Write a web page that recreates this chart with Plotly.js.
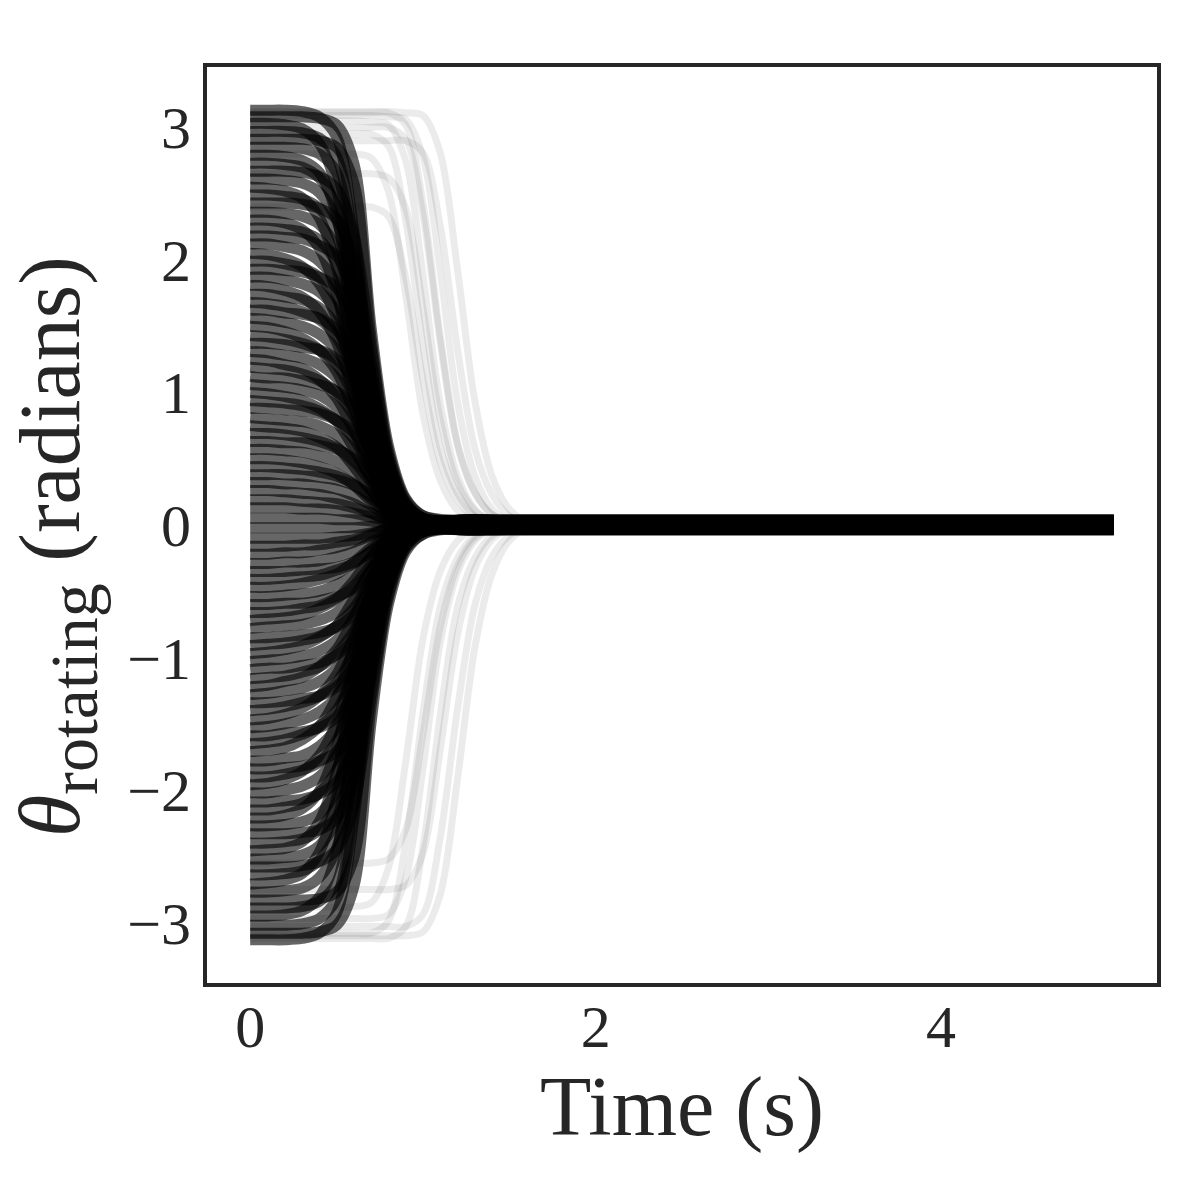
<!DOCTYPE html>
<html>
<head>
<meta charset="utf-8">
<script src="https://cdn.plot.ly/plotly-3.0.1.min.js"></script>
<style>
  html, body { margin: 0; padding: 0; background: #fff; }
  #chart { width: 1200px; height: 1200px; }
</style>
</head>
<body>
<div id="chart"></div>
<script>
// sample times (s) for the bulk of the trajectories
const mainTime = [0, 0.1, 0.2, 0.3, 0.4, 0.5, 0.6, 0.7, 0.8, 0.9, 1.0, 1.2, 1.5, 5.0];

// trajectories starting above zero, theta (rad) at mainTime
const upperTrajectories = [
  [3.13, 3.13, 3.13, 3.12, 3.08, 2.93, 2.22, 1.11, 0.45, 0.15, 0.05, 0.03, 0.03, 0.03],
  [3.08, 3.08, 3.08, 3.08, 3.07, 3.02, 2.73, 1.49, 0.60, 0.20, 0.07, 0.02, 0.02, 0.02],
  [3.03, 3.03, 3.02, 2.99, 2.88, 2.54, 1.56, 0.78, 0.32, 0.11, 0.04, 0.01, 0.01, 0.01],
  [2.97, 2.97, 2.97, 2.96, 2.92, 2.78, 2.11, 1.05, 0.43, 0.14, 0.05, -0.01, -0.01, -0.01],
  [2.91, 2.91, 2.91, 2.91, 2.90, 2.85, 2.58, 1.41, 0.56, 0.19, 0.07, 0.035, 0.035, 0.035],
  [2.85, 2.85, 2.85, 2.84, 2.80, 2.66, 2.02, 1.01, 0.41, 0.14, 0.05, 0, 0, 0],
  [2.79, 2.79, 2.78, 2.75, 2.66, 2.34, 1.44, 0.72, 0.30, 0.10, 0.04, 0.025, 0.025, 0.025],
  [2.73, 2.73, 2.72, 2.70, 2.62, 2.40, 1.86, 1.04, 0.44, 0.14, 0.04, 0.015, 0.015, 0.015],
  [2.67, 2.67, 2.67, 2.66, 2.63, 2.54, 2.19, 1.34, 0.53, 0.17, 0.05, -0.02, -0.02, -0.02],
  [2.61, 2.61, 2.60, 2.58, 2.51, 2.30, 1.77, 0.99, 0.42, 0.14, 0.04, 0.03, 0.03, 0.03],
  [2.55, 2.54, 2.52, 2.47, 2.32, 1.94, 1.28, 0.69, 0.28, 0.10, 0.04, 0.005, 0.005, 0.005],
  [2.49, 2.49, 2.48, 2.46, 2.39, 2.19, 1.69, 0.95, 0.40, 0.13, 0.04, -0.03, -0.03, -0.03],
  [2.43, 2.43, 2.43, 2.42, 2.39, 2.31, 1.99, 1.22, 0.49, 0.16, 0.05, 0.02, 0.02, 0.02],
  [2.36, 2.36, 2.35, 2.33, 2.27, 2.08, 1.60, 0.90, 0.38, 0.12, 0.04, 0.01, 0.01, 0.01],
  [2.30, 2.30, 2.28, 2.23, 2.09, 1.75, 1.15, 0.62, 0.25, 0.09, 0.03, 0.035, 0.035, 0.035],
  [2.24, 2.24, 2.23, 2.21, 2.15, 1.97, 1.52, 0.85, 0.36, 0.12, 0.04, -0.015, -0.015, -0.015],
  [2.18, 2.18, 2.17, 2.16, 2.11, 2.03, 1.74, 1.13, 0.48, 0.15, 0.05, 0.025, 0.025, 0.025],
  [2.12, 2.12, 2.10, 2.07, 1.99, 1.82, 1.43, 0.85, 0.36, 0.12, 0.04, -0.005, -0.005, -0.005],
  [2.05, 2.04, 2.01, 1.95, 1.82, 1.56, 1.11, 0.62, 0.25, 0.08, 0.03, 0.02, 0.02, 0.02],
  [1.99, 1.99, 1.97, 1.94, 1.87, 1.71, 1.34, 0.80, 0.34, 0.11, 0.04, -0.025, -0.025, -0.025],
  [1.93, 1.93, 1.92, 1.91, 1.87, 1.79, 1.54, 1.00, 0.42, 0.14, 0.05, 0, 0, 0],
  [1.87, 1.87, 1.85, 1.82, 1.76, 1.61, 1.26, 0.75, 0.32, 0.10, 0.04, 0.03, 0.03, 0.03],
  [1.81, 1.80, 1.77, 1.72, 1.61, 1.38, 0.98, 0.54, 0.22, 0.07, 0.03, -0.01, -0.01, -0.01],
  [1.74, 1.74, 1.72, 1.70, 1.64, 1.50, 1.17, 0.70, 0.30, 0.10, 0.03, 0.015, 0.015, 0.015],
  [1.68, 1.67, 1.65, 1.61, 1.55, 1.42, 1.14, 0.73, 0.31, 0.10, 0.03, -0.03, -0.03, -0.03],
  [1.62, 1.62, 1.60, 1.59, 1.56, 1.47, 1.28, 0.89, 0.39, 0.13, 0.04, 0.01, 0.01, 0.01],
  [1.56, 1.55, 1.53, 1.50, 1.44, 1.32, 1.06, 0.68, 0.29, 0.09, 0.03, 0.035, 0.035, 0.035],
  [1.50, 1.49, 1.46, 1.41, 1.32, 1.16, 0.86, 0.51, 0.21, 0.07, 0.02, -0.02, -0.02, -0.02],
  [1.43, 1.42, 1.40, 1.37, 1.32, 1.21, 0.97, 0.62, 0.27, 0.09, 0.03, 0.005, 0.005, 0.005],
  [1.37, 1.37, 1.36, 1.34, 1.32, 1.25, 1.08, 0.75, 0.33, 0.11, 0.03, 0.025, 0.025, 0.025],
  [1.31, 1.30, 1.28, 1.26, 1.21, 1.11, 0.89, 0.57, 0.24, 0.08, 0.03, -0.035, -0.035, -0.035],
  [1.25, 1.24, 1.21, 1.18, 1.10, 0.96, 0.71, 0.43, 0.18, 0.06, 0.02, 0.02, 0.02, 0.02],
  [1.19, 1.18, 1.17, 1.14, 1.09, 1.00, 0.82, 0.54, 0.24, 0.08, 0.02, 0, 0, 0],
  [1.12, 1.11, 1.11, 1.09, 1.06, 1.01, 0.88, 0.63, 0.29, 0.10, 0.03, -0.015, -0.015, -0.015],
  [1.06, 1.05, 1.04, 1.02, 0.98, 0.89, 0.73, 0.48, 0.21, 0.07, 0.02, 0.03, 0.03, 0.03],
  [1.00, 0.99, 0.97, 0.94, 0.88, 0.78, 0.58, 0.34, 0.14, 0.05, 0.02, -0.005, -0.005, -0.005],
  [0.94, 0.93, 0.92, 0.90, 0.86, 0.79, 0.65, 0.42, 0.19, 0.07, 0.02, 0.015, 0.015, 0.015],
  [0.88, 0.88, 0.87, 0.86, 0.84, 0.79, 0.70, 0.49, 0.23, 0.08, 0.03, -0.03, -0.03, -0.03],
  [0.81, 0.80, 0.79, 0.78, 0.75, 0.68, 0.56, 0.36, 0.16, 0.06, 0.02, 0.035, 0.035, 0.035],
  [0.75, 0.74, 0.73, 0.71, 0.66, 0.59, 0.44, 0.26, 0.11, 0.04, 0.01, 0.01, 0.01, 0.01],
  [0.69, 0.69, 0.68, 0.66, 0.63, 0.58, 0.48, 0.32, 0.14, 0.06, 0.01, -0.02, -0.02, -0.02],
  [0.63, 0.63, 0.62, 0.62, 0.60, 0.57, 0.50, 0.37, 0.18, 0.06, 0.02, 0.025, 0.025, 0.025],
  [0.57, 0.57, 0.56, 0.55, 0.52, 0.48, 0.40, 0.26, 0.11, 0.05, 0.01, -0.01, -0.01, -0.01],
  [0.50, 0.50, 0.49, 0.47, 0.44, 0.39, 0.30, 0.18, 0.08, 0.03, 0.01, 0.03, 0.03, 0.03],
  [0.44, 0.44, 0.43, 0.42, 0.40, 0.37, 0.31, 0.20, 0.09, 0.04, 0.01, -0.025, -0.025, -0.025],
  [0.38, 0.38, 0.38, 0.37, 0.36, 0.34, 0.30, 0.22, 0.11, 0.04, 0.01, 0.005, 0.005, 0.005],
  [0.32, 0.32, 0.31, 0.31, 0.29, 0.27, 0.22, 0.15, 0.06, 0.03, 0.01, 0.02, 0.02, 0.02],
  [0.26, 0.26, 0.25, 0.24, 0.23, 0.20, 0.16, 0.09, 0.04, 0.01, 0.01, -0.035, -0.035, -0.035],
  [0.19, 0.19, 0.19, 0.18, 0.17, 0.16, 0.13, 0.09, 0.04, 0.02, 0, 0.015, 0.015, 0.015],
  [0.13, 0.13, 0.13, 0.12, 0.12, 0.11, 0.09, 0.06, 0.03, 0.01, 0, -0.005, -0.005, -0.005],
  [0.05, 0.05, 0.05, 0.05, 0.05, 0.04, 0.04, 0.03, 0.01, 0.01, 0, 0.01, 0.01, 0.01],
];

// trajectories starting below zero, theta (rad) at mainTime
const lowerTrajectories = [
  [-0.02, -0.02, -0.02, -0.02, -0.02, -0.02, -0.02, -0.01, -0.01, 0, 0, 0.01, 0.01, 0.01],
  [-0.10, -0.10, -0.10, -0.10, -0.10, -0.09, -0.08, -0.06, -0.03, -0.01, 0, -0.02, -0.02, -0.02],
  [-0.16, -0.16, -0.16, -0.15, -0.15, -0.13, -0.11, -0.07, -0.03, -0.01, 0, 0.03, 0.03, 0.03],
  [-0.22, -0.22, -0.21, -0.21, -0.19, -0.17, -0.13, -0.08, -0.03, -0.01, 0, -0.03, -0.03, -0.03],
  [-0.29, -0.29, -0.28, -0.28, -0.27, -0.24, -0.20, -0.13, -0.06, -0.02, -0.01, 0.005, 0.005, 0.005],
  [-0.35, -0.35, -0.35, -0.34, -0.33, -0.32, -0.28, -0.20, -0.10, -0.04, -0.01, -0.01, -0.01, -0.01],
  [-0.41, -0.41, -0.40, -0.39, -0.38, -0.34, -0.29, -0.19, -0.08, -0.03, -0.01, 0.02, 0.02, 0.02],
  [-0.47, -0.47, -0.46, -0.44, -0.41, -0.37, -0.28, -0.17, -0.07, -0.02, -0.01, -0.035, -0.035, -0.035],
  [-0.54, -0.54, -0.53, -0.52, -0.50, -0.45, -0.38, -0.25, -0.11, -0.04, -0.01, 0.035, 0.035, 0.035],
  [-0.60, -0.60, -0.59, -0.59, -0.57, -0.54, -0.48, -0.35, -0.17, -0.06, -0.02, -0.015, -0.015, -0.015],
  [-0.66, -0.66, -0.65, -0.63, -0.61, -0.55, -0.46, -0.30, -0.13, -0.05, -0.01, 0, 0, 0],
  [-0.72, -0.71, -0.70, -0.68, -0.63, -0.56, -0.42, -0.24, -0.10, -0.04, -0.01, 0.025, 0.025, 0.025],
  [-0.78, -0.77, -0.76, -0.75, -0.72, -0.66, -0.54, -0.35, -0.16, -0.05, -0.02, -0.02, -0.02, -0.02],
  [-0.85, -0.85, -0.84, -0.83, -0.81, -0.77, -0.67, -0.48, -0.22, -0.08, -0.03, 0.01, 0.01, 0.01],
  [-0.91, -0.90, -0.89, -0.87, -0.84, -0.76, -0.63, -0.41, -0.18, -0.06, -0.02, -0.03, -0.03, -0.03],
  [-0.97, -0.96, -0.94, -0.91, -0.85, -0.76, -0.56, -0.33, -0.14, -0.05, -0.01, 0.02, 0.02, 0.02],
  [-1.03, -1.02, -1.01, -0.99, -0.95, -0.87, -0.71, -0.46, -0.21, -0.07, -0.02, -0.005, -0.005, -0.005],
  [-1.09, -1.08, -1.08, -1.06, -1.04, -0.98, -0.86, -0.61, -0.28, -0.10, -0.03, 0.035, 0.035, 0.035],
  [-1.16, -1.15, -1.14, -1.11, -1.07, -0.97, -0.80, -0.52, -0.23, -0.08, -0.02, -0.025, -0.025, -0.025],
  [-1.22, -1.21, -1.18, -1.15, -1.07, -0.94, -0.70, -0.41, -0.17, -0.05, -0.02, 0.015, 0.015, 0.015],
  [-1.28, -1.27, -1.25, -1.23, -1.18, -1.08, -0.87, -0.55, -0.24, -0.08, -0.03, -0.01, -0.01, -0.01],
  [-1.34, -1.34, -1.33, -1.31, -1.29, -1.22, -1.06, -0.74, -0.32, -0.11, -0.03, 0.03, 0.03, 0.03],
  [-1.40, -1.39, -1.37, -1.34, -1.29, -1.19, -0.95, -0.61, -0.26, -0.08, -0.03, -0.035, -0.035, -0.035],
  [-1.47, -1.46, -1.43, -1.38, -1.29, -1.13, -0.84, -0.50, -0.21, -0.07, -0.02, 0, 0, 0],
  [-1.53, -1.52, -1.50, -1.47, -1.41, -1.30, -1.04, -0.66, -0.29, -0.09, -0.03, 0.025, 0.025, 0.025],
  [-1.59, -1.59, -1.57, -1.56, -1.53, -1.45, -1.26, -0.87, -0.38, -0.13, -0.04, -0.015, -0.015, -0.015],
  [-1.65, -1.64, -1.62, -1.58, -1.52, -1.40, -1.12, -0.71, -0.31, -0.10, -0.03, 0.02, 0.02, 0.02],
  [-1.71, -1.70, -1.68, -1.62, -1.52, -1.30, -0.92, -0.51, -0.21, -0.07, -0.03, -0.03, -0.03, -0.03],
  [-1.78, -1.78, -1.76, -1.74, -1.67, -1.53, -1.20, -0.71, -0.30, -0.10, -0.04, 0.01, 0.01, 0.01],
  [-1.84, -1.84, -1.83, -1.82, -1.78, -1.71, -1.47, -0.96, -0.40, -0.13, -0.05, -0.02, -0.02, -0.02],
  [-1.90, -1.90, -1.88, -1.85, -1.79, -1.63, -1.28, -0.76, -0.32, -0.10, -0.04, 0.035, 0.035, 0.035],
  [-1.96, -1.95, -1.92, -1.86, -1.74, -1.49, -1.06, -0.59, -0.24, -0.08, -0.03, -0.005, -0.005, -0.005],
  [-2.02, -2.02, -2.00, -1.97, -1.90, -1.74, -1.36, -0.81, -0.34, -0.11, -0.04, 0.02, 0.02, 0.02],
  [-2.09, -2.09, -2.08, -2.07, -2.03, -1.94, -1.67, -1.09, -0.46, -0.15, -0.05, -0.025, -0.025, -0.025],
  [-2.15, -2.15, -2.13, -2.10, -2.02, -1.85, -1.45, -0.86, -0.37, -0.12, -0.04, 0.005, 0.005, 0.005],
  [-2.21, -2.21, -2.19, -2.14, -2.01, -1.68, -1.11, -0.60, -0.24, -0.09, -0.03, 0.03, 0.03, 0.03],
  [-2.27, -2.27, -2.26, -2.24, -2.18, -2.00, -1.54, -0.86, -0.36, -0.12, -0.04, -0.01, -0.01, -0.01],
  [-2.33, -2.33, -2.33, -2.32, -2.30, -2.21, -1.91, -1.17, -0.47, -0.15, -0.05, 0.015, 0.015, 0.015],
  [-2.40, -2.40, -2.39, -2.37, -2.30, -2.11, -1.63, -0.91, -0.38, -0.12, -0.04, -0.03, -0.03, -0.03],
  [-2.46, -2.45, -2.44, -2.39, -2.24, -1.87, -1.23, -0.66, -0.27, -0.10, -0.04, 0.02, 0.02, 0.02],
  [-2.52, -2.52, -2.51, -2.49, -2.42, -2.22, -1.71, -0.96, -0.40, -0.13, -0.04, 0, 0, 0],
  [-2.58, -2.58, -2.58, -2.57, -2.54, -2.45, -2.12, -1.29, -0.52, -0.17, -0.05, -0.02, -0.02, -0.02],
  [-2.64, -2.64, -2.63, -2.61, -2.53, -2.32, -1.80, -1.00, -0.42, -0.14, -0.04, 0.035, 0.035, 0.035],
  [-2.71, -2.70, -2.68, -2.63, -2.47, -2.06, -1.36, -0.73, -0.30, -0.11, -0.04, -0.015, -0.015, -0.015],
  [-2.77, -2.77, -2.76, -2.74, -2.66, -2.44, -1.88, -1.05, -0.44, -0.14, -0.04, 0.025, 0.025, 0.025],
  [-2.83, -2.83, -2.83, -2.83, -2.82, -2.77, -2.51, -1.37, -0.55, -0.18, -0.07, -0.005, -0.005, -0.005],
  [-2.89, -2.89, -2.89, -2.88, -2.84, -2.70, -2.05, -1.03, -0.42, -0.14, -0.05, 0.02, 0.02, 0.02],
  [-2.95, -2.95, -2.94, -2.91, -2.81, -2.48, -1.52, -0.76, -0.31, -0.10, -0.04, -0.03, -0.03, -0.03],
  [-3.02, -3.02, -3.02, -3.01, -2.97, -2.82, -2.14, -1.07, -0.44, -0.14, -0.05, 0.01, 0.01, 0.01],
  [-3.08, -3.08, -3.08, -3.08, -3.07, -3.02, -2.73, -1.49, -0.60, -0.20, -0.07, -0.025, -0.025, -0.025],
  [-3.13, -3.13, -3.13, -3.12, -3.08, -2.93, -2.22, -1.11, -0.45, -0.15, -0.05, 0.03, 0.03, 0.03],
];

// the few slow swings that stay near +/-pi longer (faint fan)
const lateTime = [0, 0.3, 0.6, 0.7, 0.8, 0.9, 1.0, 1.1, 1.2, 1.3, 1.4, 1.5, 1.6, 1.8, 5.0];
const lateTrajectories = [
  [3.12, 3.12, 3.12, 3.12, 3.12, 3.11, 3.09, 2.81, 1.93, 0.94, 0.37, 0.12, 0.03, 0.01, 0],
  [3.09, 3.09, 3.09, 3.09, 3.08, 3.06, 2.78, 1.92, 0.93, 0.37, 0.12, 0.03, 0.01, 0, 0],
  [3.05, 3.05, 3.05, 3.04, 3.02, 2.75, 1.89, 0.92, 0.37, 0.12, 0.03, 0.01, 0, 0, 0],
  [3.00, 3.00, 3.00, 3.00, 3.00, 2.91, 2.34, 1.38, 0.60, 0.24, 0.08, 0.03, 0.01, 0, 0],
  [2.95, 2.95, 2.95, 2.95, 2.86, 2.30, 1.36, 0.59, 0.24, 0.07, 0.02, 0.01, 0, 0, 0],
  [2.90, 2.90, 2.90, 2.90, 2.90, 2.90, 2.81, 2.26, 1.33, 0.58, 0.23, 0.07, 0.02, 0, 0],
  [2.80, 2.80, 2.80, 2.77, 2.52, 1.74, 0.84, 0.34, 0.11, 0.03, 0.01, 0, 0, 0, 0],
  [2.65, 2.65, 2.65, 2.65, 2.62, 2.39, 1.64, 0.80, 0.32, 0.11, 0.03, 0.01, 0, 0, 0],
  [3.11, 3.11, 3.11, 3.11, 3.11, 3.02, 2.43, 1.43, 0.62, 0.25, 0.08, 0.03, 0.01, 0, 0],
  [2.40, 2.40, 2.40, 2.40, 2.33, 1.87, 1.10, 0.48, 0.19, 0.06, 0.02, 0.01, 0, 0, 0],
  [-3.12, -3.12, -3.12, -3.12, -3.12, -3.03, -2.43, -1.44, -0.62, -0.25, -0.08, -0.03, -0.01, 0, 0],
  [-3.08, -3.08, -3.08, -3.08, -2.99, -2.40, -1.42, -0.62, -0.25, -0.08, -0.03, -0.01, 0, 0, 0],
  [-3.03, -3.03, -3.03, -3.03, -3.03, -3.03, -2.94, -2.36, -1.39, -0.61, -0.24, -0.08, -0.02, 0, 0],
  [-2.97, -2.97, -2.97, -2.97, -2.94, -2.67, -1.84, -0.89, -0.36, -0.12, -0.03, -0.01, 0, 0, 0],
  [-2.88, -2.88, -2.88, -2.85, -2.59, -1.79, -0.86, -0.35, -0.12, -0.03, -0.01, 0, 0, 0, 0],
  [-2.75, -2.75, -2.75, -2.75, -2.75, -2.72, -2.48, -1.70, -0.83, -0.33, -0.11, -0.03, -0.01, 0, 0],
  [-3.10, -3.10, -3.10, -3.10, -3.10, -3.10, -3.07, -2.79, -1.92, -0.93, -0.37, -0.12, -0.03, -0.01, 0],
  [-2.55, -2.55, -2.55, -2.55, -2.52, -2.30, -1.58, -0.77, -0.31, -0.10, -0.03, -0.01, 0, 0, 0],
];

const xTicks = [0, 2, 4];
const yTicks = [-3, -2, -1, 0, 1, 2, 3];

const ink = '#262626';
const serif = '"Liberation Serif", "DejaVu Serif", serif';

function trajectoryTrace(time, values, alpha, width) {
  return {
    type: 'scatter',
    mode: 'lines',
    x: time,
    y: values,
    line: { color: `rgba(0,0,0,${alpha})`, width: width, shape: 'spline', smoothing: 0.9 },
    hoverinfo: 'skip',
    showlegend: false,
  };
}

const traces = [
  ...lateTrajectories.map((row) => trajectoryTrace(lateTime, row, 0.08, 7)),
  ...upperTrajectories.map((row) => trajectoryTrace(mainTime, row, 0.6, 11)),
  ...lowerTrajectories.map((row) => trajectoryTrace(mainTime, row, 0.6, 11)),
];

const axisBase = {
  showgrid: false,
  zeroline: false,
  showline: true,
  mirror: true,
  linecolor: ink,
  linewidth: 4,
  ticks: '',
  tickfont: { family: serif, size: 60, color: ink },
  automargin: false,
};

const layout = {
  width: 1200,
  height: 1200,
  paper_bgcolor: '#ffffff',
  plot_bgcolor: '#ffffff',
  margin: { l: 207, r: 43, t: 67, b: 217 },
  showlegend: false,
  xaxis: {
    ...axisBase,
    range: [-0.25, 5.25],
    tickvals: xTicks,
    ticklabelstandoff: -12,
    title: { text: 'Time (s)', font: { family: serif, size: 84, color: ink }, standoff: 17 },
  },
  yaxis: {
    ...axisBase,
    range: [-3.456, 3.456],
    tickvals: yTicks,
  },
  annotations: [{
    text: '<i>θ</i><sub><span style="font-size:68px">rotating</span></sub> (radians)',
    textangle: -90,
    xref: 'paper',
    yref: 'paper',
    x: 0,
    y: 0.5,
    xanchor: 'center',
    yanchor: 'middle',
    xshift: -150,
    yshift: -22,
    showarrow: false,
    font: { family: serif, size: 86, color: ink },
  }],
};

Plotly.newPlot('chart', traces, layout, { staticPlot: true, displayModeBar: false });
</script>
</body>
</html>
